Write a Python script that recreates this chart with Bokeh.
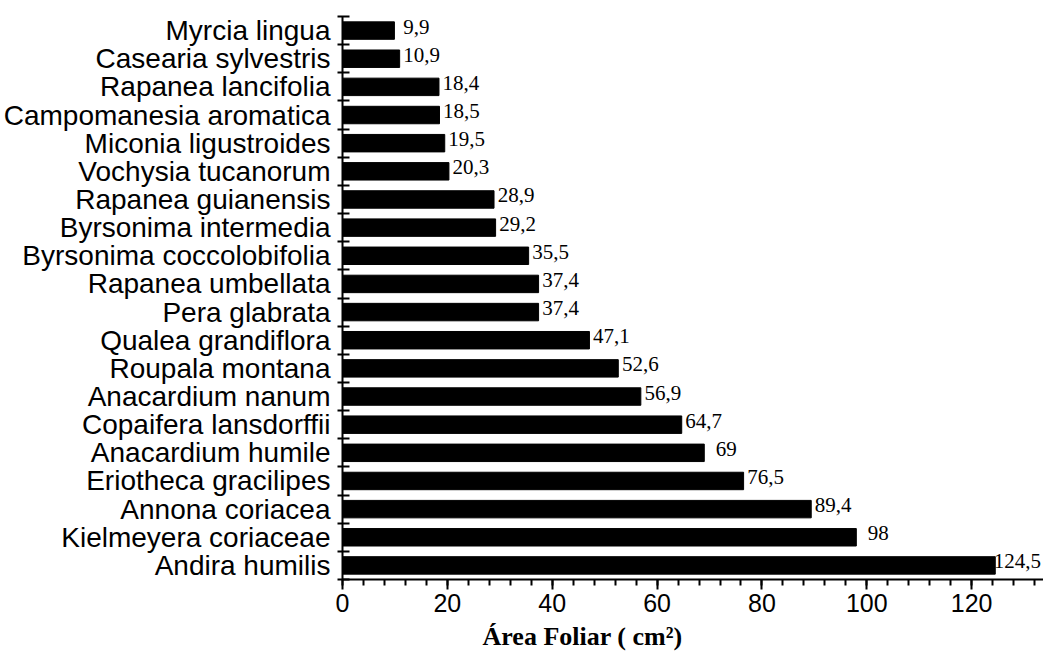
from bokeh.plotting import figure
from bokeh.models import Range1d, FixedTicker, SingleIntervalTicker, ColumnDataSource, Title
from bokeh.embed import file_html
from bokeh.resources import INLINE
from bokeh.core.properties import value

# Species listed top to bottom as in the chart
species = [
    "Myrcia lingua", "Casearia sylvestris", "Rapanea lancifolia",
    "Campomanesia aromatica", "Miconia ligustroides", "Vochysia tucanorum",
    "Rapanea guianensis", "Byrsonima intermedia", "Byrsonima coccolobifolia",
    "Rapanea umbellata", "Pera glabrata", "Qualea grandiflora",
    "Roupala montana", "Anacardium nanum", "Copaifera lansdorffii",
    "Anacardium humile", "Eriotheca gracilipes", "Annona coriacea",
    "Kielmeyera coriaceae", "Andira humilis",
]
area = [9.9, 10.9, 18.4, 18.5, 19.5, 20.3, 28.9, 29.2, 35.5, 37.4,
        37.4, 47.1, 52.6, 56.9, 64.7, 69, 76.5, 89.4, 98, 124.5]
x_title = "Área Foliar ( cm²)"

n = len(species)
ypos = [n - 1 - i + 0.5 for i in range(n)]
labels = [f"{v:g}".replace(".", ",") for v in area]

p = figure(width=1043, height=658, output_backend="svg", toolbar_location=None,
           x_range=Range1d(0, 133.7), y_range=Range1d(0, n),
           min_border_left=339, min_border_right=0, min_border_top=16,
           min_border_bottom=79)
p.outline_line_color = None
p.xgrid.grid_line_color = None
p.ygrid.grid_line_color = None
p.background_fill_color = "white"
p.border_fill_color = "white"

src = ColumnDataSource(dict(y=ypos, v=area, lab=labels, name=species))
p.hbar(y="y", left=0, right="v", height=0.62, source=src,
       fill_color="black", line_color="black")
p.text(x="v", y="y", text="lab", source=src, x_offset=22, y_offset=-4,
       text_align="center", text_baseline="middle",
       text_font=value("Liberation Serif"), text_font_size="21px",
       text_color="black")

# Y axis: names between boundary ticks
yax = p.yaxis[0]
yax.ticker = FixedTicker(ticks=ypos, minor_ticks=list(range(n + 1)))
yax.major_label_overrides = {y: s for y, s in zip(ypos, species)}
yax.major_tick_line_color = None
yax.major_tick_in = 0
yax.major_tick_out = 0
yax.minor_tick_in = 7
yax.minor_tick_out = 5
yax.minor_tick_line_width = 2
yax.minor_tick_line_color = "black"
yax.axis_line_width = 2
yax.axis_line_color = "black"
yax.major_label_standoff = 7
yax.major_label_text_font = "Liberation Sans"
yax.major_label_text_font_size = "28px"
yax.major_label_text_color = "black"

xax = p.xaxis[0]
xax.ticker = SingleIntervalTicker(interval=20, num_minor_ticks=5)
xax.major_tick_in = 0
xax.major_tick_out = 10
xax.minor_tick_in = 0
xax.minor_tick_out = 6
xax.major_tick_line_width = 2
xax.minor_tick_line_width = 2
xax.major_tick_line_color = "black"
xax.minor_tick_line_color = "black"
xax.axis_line_width = 2
xax.axis_line_color = "black"
xax.major_label_standoff = 4
xax.major_label_text_font = "Liberation Sans"
xax.major_label_text_font_size = "25px"
xax.major_label_text_color = "black"

p.add_layout(Title(text=x_title, align="left", offset=140, standoff=10,
                   text_font="Liberation Serif", text_font_style="bold",
                   text_font_size="26px", text_color="black"), "below")

open("out.html", "w").write(file_html(p, INLINE))
